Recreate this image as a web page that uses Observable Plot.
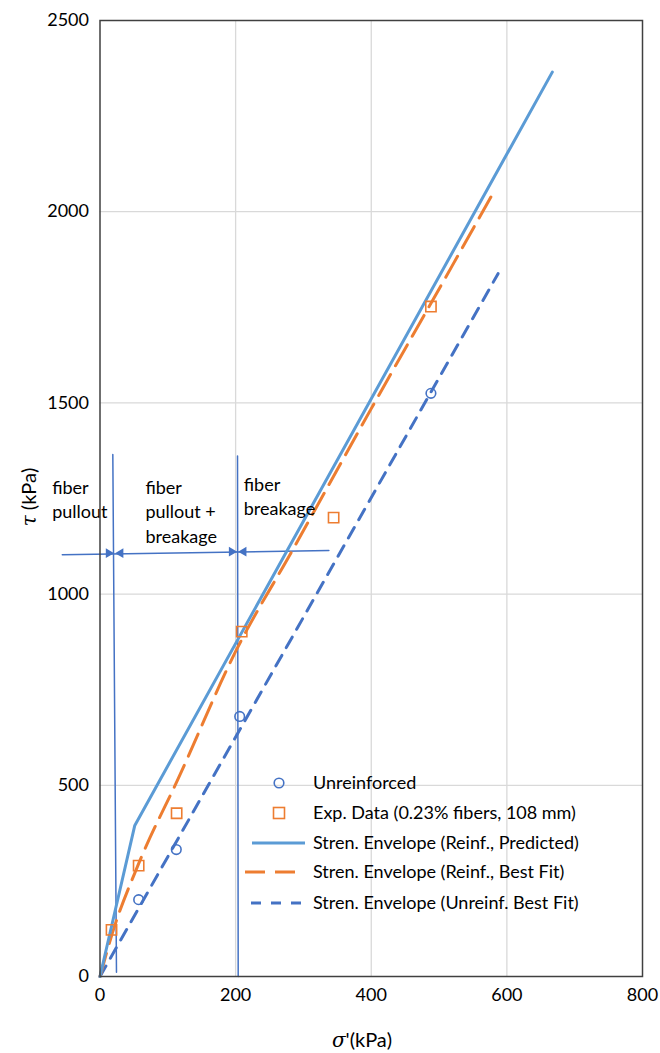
<!DOCTYPE html>
<html><head><meta charset="utf-8">
<script src="https://cdn.jsdelivr.net/npm/d3@7"></script>
<script src="https://cdn.jsdelivr.net/npm/@observablehq/plot@0.6"></script>
<style>
body{margin:0;background:#fff}
#wrap{position:relative;width:660px;height:1053px}
#wrap svg.overlay{position:absolute;left:0;top:0;pointer-events:none}
</style>
</head><body><div id="wrap"></div>
<script>
// ---- data ----
const unreinfX = [57, 112.5, 206, 488];
const unreinfY = [201, 332, 680, 1525];
const expX = [17, 57, 113, 209, 344.5, 488];
const expY = [122, 290, 427, 902, 1200, 1752];
const predX = [0, 51.3, 667];
const predY = [0, 395, 2365];
const bestX = [0, 18, 57, 116, 200, 283, 400, 519.5, 578.5];
const bestY = [0, 112, 295, 520, 850, 1112, 1485, 1859, 2045];
const unBestX = [0, 587];
const unBestY = [0, 1838];
const bound1X = [18.9, 24.3];
const bound1Y = [1365, 11];
const bound2X = [202.8, 203.8];
const bound2Y = [1361, 0];
const spanX = [-55.6, 337.5];
const spanY = [1103, 1114];
const arrowTipX = [21.5, 21.5, 203, 203];
const arrowTipY = [1107, 1107, 1111, 1111];
const arrowDir = ["right", "left", "right", "left"];
const zoneText = ["fiber", "pullout", "fiber", "pullout +", "breakage", "fiber", "breakage"];
const zoneX = [-70.5, -70.5, 67, 67, 67, 212, 212];
const zoneY = [1276, 1213, 1276, 1213, 1148, 1284, 1221];
const xTicks = [0, 200, 400, 600, 800];
const yTicks = [0, 500, 1000, 1500, 2000, 2500];
const legendLabels = [
  "Unreinforced",
  "Exp. Data (0.23% fibers, 108 mm)",
  "Stren. Envelope (Reinf., Predicted)",
  "Stren. Envelope (Reinf., Best Fit)",
  "Stren. Envelope (Unreinf. Best Fit)"
];

// ---- styles ----
const C_BLUE = "#5B9BD5", C_ORANGE = "#ED7D31", C_DBLUE = "#4472C4";
const FONT = "Lato, 'Open Sans', sans-serif";

const zip = (xs, ys) => xs.map((x, i) => ({x, y: ys[i]}));
const unreinf = zip(unreinfX, unreinfY);
const exp = zip(expX, expY);
const pred = zip(predX, predY);
const best = zip(bestX, bestY);
const unBest = zip(unBestX, unBestY);
const b1 = zip(bound1X, bound1Y);
const b2 = zip(bound2X, bound2Y);
const span = zip(spanX, spanY);
const arrows = arrowTipX.map((x, i) => ({x, y: arrowTipY[i], dir: arrowDir[i]}));
const zones = zoneText.map((t, i) => ({t, x: zoneX[i], y: zoneY[i]}));

const chart = Plot.plot({
  width: 660, height: 1053,
  marginLeft: 99.5, marginRight: 18, marginTop: 20, marginBottom: 77,
  style: {fontFamily: FONT, fontSize: "18px", color: "#000", background: "#fff"},
  x: {domain: [0, 800]},
  y: {domain: [0, 2500]},
  marks: [
    Plot.gridX(xTicks.slice(1, -1), {stroke: "#d9d9d9", strokeOpacity: 1, strokeWidth: 1.3}),
    Plot.gridY(yTicks.slice(1, -1), {stroke: "#d9d9d9", strokeOpacity: 1, strokeWidth: 1.3}),
    Plot.axisX(xTicks, {tickSize: 0, tickPadding: 12, fontSize: 18, label: null, fill: "#000", tickFormat: d => String(d)}),
    Plot.axisY(yTicks, {tickSize: 0, tickPadding: 11, fontSize: 18, label: null, fill: "#000", tickFormat: d => String(d)}),
    // zone boundaries and span arrow
    Plot.line(b1, {x: "x", y: "y", stroke: C_DBLUE, strokeWidth: 1.5}),
    Plot.line(b2, {x: "x", y: "y", stroke: C_DBLUE, strokeWidth: 1.5}),
    Plot.line(span, {x: "x", y: "y", stroke: C_DBLUE, strokeWidth: 1.5}),
    Plot.dot(arrows.filter(d => d.dir === "right"), {x: "x", y: "y", symbol: "triangle2", r: 4.6, rotate: 90, fill: C_DBLUE, dx: -6}),
    Plot.dot(arrows.filter(d => d.dir === "left"), {x: "x", y: "y", symbol: "triangle2", r: 4.6, rotate: -90, fill: C_DBLUE, dx: 6}),
    // envelopes
    Plot.line(unBest, {x: "x", y: "y", stroke: C_DBLUE, strokeWidth: 3, strokeDasharray: "12,9"}),
    Plot.line(best, {x: "x", y: "y", curve: "monotone-x", stroke: C_ORANGE, strokeWidth: 3, strokeDasharray: "24,10"}),
    Plot.line(pred, {x: "x", y: "y", stroke: C_BLUE, strokeWidth: 3}),
    // data points
    Plot.dot(unreinf, {x: "x", y: "y", r: 4.8, stroke: C_DBLUE, strokeWidth: 1.6, fill: "none"}),
    Plot.dot(exp, {x: "x", y: "y", symbol: "square", r: 5.8, stroke: C_ORANGE, strokeWidth: 1.6, fill: "none"}),
    // zone labels
    Plot.text(zones, {x: "x", y: "y", text: "t", textAnchor: "start", fontSize: 18, fill: "#000"}),
    Plot.frame({stroke: "#404040", strokeWidth: 1.5})
  ]
});
document.getElementById("wrap").appendChild(chart);

// overlay: axis titles and legend
const ov = d3.select("#wrap").append("svg").attr("class", "overlay")
  .attr("width", 660).attr("height", 1053)
  .style("font-family", FONT).style("font-size", "18px");

// legend
const lg = ov.append("g");
const rowY = [783, 813, 843, 872, 903];
lg.append("circle").attr("cx", 279).attr("cy", rowY[0]).attr("r", 4.8)
  .attr("fill", "none").attr("stroke", C_DBLUE).attr("stroke-width", 1.6);
lg.append("rect").attr("x", 273.5).attr("y", rowY[1] - 5.5).attr("width", 11).attr("height", 11)
  .attr("fill", "none").attr("stroke", C_ORANGE).attr("stroke-width", 1.6);
lg.append("line").attr("x1", 252).attr("x2", 305).attr("y1", rowY[2]).attr("y2", rowY[2])
  .attr("stroke", C_BLUE).attr("stroke-width", 3);
lg.append("line").attr("x1", 245).attr("x2", 305).attr("y1", rowY[3]).attr("y2", rowY[3])
  .attr("stroke", C_ORANGE).attr("stroke-width", 3).attr("stroke-dasharray", "20,10");
lg.append("line").attr("x1", 251).attr("x2", 305).attr("y1", rowY[4]).attr("y2", rowY[4])
  .attr("stroke", C_DBLUE).attr("stroke-width", 3).attr("stroke-dasharray", "10,10");
legendLabels.forEach((t, i) => {
  lg.append("text").attr("x", 313).attr("y", rowY[i]).attr("dy", "0.35em").text(t);
});

// axis titles
const xt = ov.append("text").attr("x", 362).attr("y", 1040).attr("dy", "0.35em")
  .attr("text-anchor", "middle").style("font-size", "20px");
xt.append("tspan").style("font-family", "'DejaVu Serif', serif").style("font-style", "italic").text("σ");
xt.append("tspan").text("'(kPa)");
const yt = ov.append("text").attr("transform", "translate(29,497) rotate(-90)").attr("dy", "0.35em")
  .attr("text-anchor", "middle").style("font-size", "20px");
yt.append("tspan").style("font-family", "'DejaVu Serif', serif").style("font-style", "italic").text("τ");
yt.append("tspan").text(" (kPa)");
</script>
</body></html>
